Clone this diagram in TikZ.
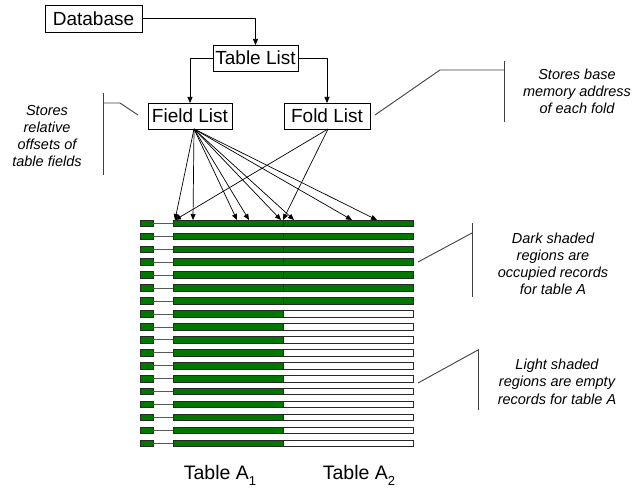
\documentclass[tikz,border=0pt]{standalone}
\usepackage{fontspec}
\setmainfont{Liberation Sans}
\usetikzlibrary{arrows.meta,calc}
\definecolor{barg}{RGB}{0,120,0}
\definecolor{edge}{RGB}{40,40,40}
\tikzset{
  box/.style={draw=black, line width=0.8pt, inner sep=0pt, outer sep=0pt,
    font=\fontsize{19}{19}\selectfont},
  arr/.style={line width=0.7pt, -{Triangle[length=6pt,width=5pt]}},
  link/.style={line width=0.7pt},
  note/.style={align=center, inner sep=0pt,
    font=\fontsize{14.5}{16.8}\selectfont\itshape},
  callout/.style={line width=0.9pt, draw=black!75},
  seg/.style={draw=edge, line width=0.8pt, inner sep=0pt, outer sep=0pt,
    anchor=north west, minimum height=6.5pt},
  caption/.style={inner sep=0pt, font=\fontsize{19.5}{19.5}\selectfont},
}
\begin{document}
\begin{tikzpicture}[x=1pt,y=-1pt]
\useasboundingbox (0,0) rectangle (644,489);

% list structures
\node[box, minimum width=97pt, minimum height=27pt] (db) at (93.5,18.5) {Database};
\node[box, minimum width=85pt, minimum height=26pt] (tl) at (255.5,58) {Table List};
\node[box, minimum width=84pt, minimum height=26pt] (fl) at (190,116) {Field List};
\node[box, minimum width=86pt, minimum height=26pt] (fo) at (327,116) {Fold List};

\draw[arr] (db.east) -| (tl.north);
\draw[arr] (tl.west) -| (fl.north);
\draw[arr] (tl.east) -| (fo.north);

% record rows: tag, link, table A1 part, table A2 part
\foreach \k in {0,...,17} {
  \pgfmathsetmacro\yy{220+12.95*\k}
  \ifnum\k<7 \def\fc{barg}\else\def\fc{white}\fi
  \node[seg, fill=barg, minimum width=13pt] (s\k) at (140,\yy) {};
  \node[seg, fill=barg, minimum width=110pt] (a\k) at (173,\yy) {};
  \node[seg, fill=\fc, minimum width=130pt] (b\k) at (283,\yy) {};
  \draw[link, draw=black!65] (s\k.east) -- (a\k.west);
}

% field and fold pointers into the first row
\coordinate (fsrc) at ($(fl.south)+(4,0)$);
\coordinate (dsrc) at ($(fo.south)+(1,0)$);
\foreach \x [count=\i] in {175,193,237,249,281,294,352,377}
  \coordinate (f\i) at (\x,220);
\coordinate (d1) at (175,220);
\coordinate (d2) at (283,220);
\foreach \i in {1,...,8} \draw[arr] (fsrc) -- (f\i);
\foreach \i in {1,2} \draw[arr] (dsrc) -- (d\i);

% annotations
\node[note] (nfield) at (47,136) {Stores\\relative\\offsets of\\table fields};
\draw[callout] (103,93) -- (103,175);
\draw[callout] (103,103) -- (120,103) -- (138,115);

\node[note] (nfold) at (577,91.5) {Stores base\\memory address\\of each fold};
\draw[callout] (504,61) -- (504,122);
\draw[callout] (375,115) -- (440,70) -- (504,70);

\node[note] (ndark) at (553,264) {Dark shaded\\regions are\\occupied records\\for table A};
\draw[callout] (472,223) -- (472,297);
\draw[callout] (418,262) -- (472,233);

\node[note, font=\fontsize{14.5}{17.6}\selectfont\itshape] (nlight) at (557,381.5)
  {Light shaded\\regions are empty\\records for table A};
\draw[callout] (478,349) -- (478,410);
\draw[callout] (418,383) -- (478,350);

% column captions
\node[caption] (ca1) at (220,475) {Table A\raisebox{-6pt}{\fontsize{13}{13}\selectfont 1}};
\node[caption] (ca2) at (359,475) {Table A\raisebox{-6pt}{\fontsize{13}{13}\selectfont 2}};
\end{tikzpicture}
\end{document}
